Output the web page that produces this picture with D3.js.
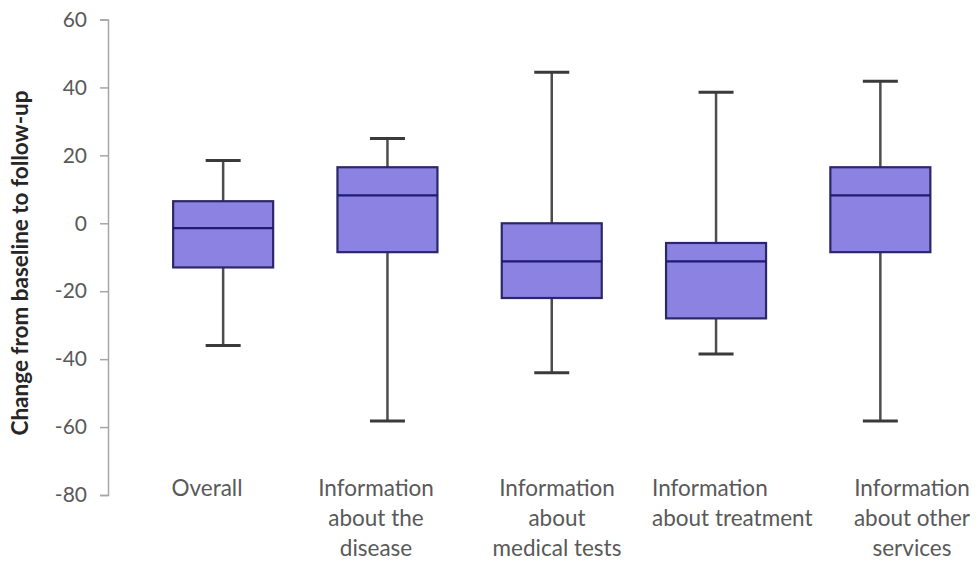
<!DOCTYPE html>
<html>
<head>
<meta charset="utf-8">
<script src="https://cdn.jsdelivr.net/npm/d3@7"></script>
<style>
  html, body { margin: 0; padding: 0; background: #fff; }
  svg { display: block; }
  text { font-family: Lato, "Open Sans", sans-serif; }
</style>
</head>
<body>
<svg id="chart" width="978" height="561"></svg>
<script>
// Categories (multi-line axis labels) and five-number summaries per category
const categories = [
  "Overall",
  "Information about the disease",
  "Information about medical tests",
  "Information about treatment",
  "Information about other services"
];
const labelLines = [
  ["Overall"],
  ["Information", "about the", "disease"],
  ["Information", "about", "medical tests"],
  ["Information", "about treatment"],
  ["Information", "about other", "services"]
];
const whiskerLow  = [-36, -58.2, -44, -38.5, -58.2];
const q1          = [-13, -8.5, -22, -28, -8.5];
const median      = [-1.4, 8.2, -11.2, -11.2, 8.2];
const q3          = [6.5, 16.5, 0, -5.8, 16.5];
const whiskerHigh = [18.5, 25, 44.5, 38.6, 41.8];
const yTicks = [60, 40, 20, 0, -20, -40, -60, -80];

const svg = d3.select("#chart");

const x = d3.scaleBand().domain(categories).range([141, 962.5]).paddingInner(0).paddingOuter(0);
const y = d3.scaleLinear().domain([-80, 60]).range([495, 19.5]);

const boxW = 100;
const capW = 35;
const textColor = "#595959";

// Y axis (plain hyphen for negatives)
const yAxis = d3.axisLeft(y).tickValues(yTicks).tickSize(8).tickPadding(13)
  .tickFormat(d => String(d));
const gy = svg.append("g").attr("transform", "translate(108,0)").call(yAxis);
gy.select(".domain").attr("stroke", "#a6a6a6").attr("stroke-width", 1.5);
gy.selectAll(".tick line").attr("stroke", "#a6a6a6").attr("stroke-width", 1.5);
gy.selectAll(".tick text")
  .attr("fill", textColor)
  .style("font-size", "21px")
  .style("font-family", "Lato, sans-serif");

// Y axis title
svg.append("text")
  .attr("transform", `translate(28,263) rotate(-90)`)
  .attr("text-anchor", "middle")
  .attr("fill", "#262626")
  .style("font-size", "22.5px")
  .style("font-weight", "bold")
  .text("Change from baseline to follow-up");

// Boxes
const data = categories.map((c, i) => ({
  c, lo: whiskerLow[i], q1: q1[i], med: median[i], q3: q3[i], hi: whiskerHigh[i]
}));

const g = svg.append("g");
const box = g.selectAll("g.box").data(data).join("g").attr("class", "box")
  .attr("transform", d => `translate(${x(d.c) + x.bandwidth() / 2},0)`);

// whisker stems
box.append("line")
  .attr("x1", 0).attr("x2", 0)
  .attr("y1", d => y(d.hi)).attr("y2", d => y(d.q3))
  .attr("stroke", "#4d4d4d").attr("stroke-width", 2.5);
box.append("line")
  .attr("x1", 0).attr("x2", 0)
  .attr("y1", d => y(d.q1)).attr("y2", d => y(d.lo))
  .attr("stroke", "#4d4d4d").attr("stroke-width", 2.5);
// whisker caps
box.append("line")
  .attr("x1", -capW / 2).attr("x2", capW / 2)
  .attr("y1", d => y(d.hi)).attr("y2", d => y(d.hi))
  .attr("stroke", "#3a3a3a").attr("stroke-width", 3);
box.append("line")
  .attr("x1", -capW / 2).attr("x2", capW / 2)
  .attr("y1", d => y(d.lo)).attr("y2", d => y(d.lo))
  .attr("stroke", "#3a3a3a").attr("stroke-width", 3);
// IQR box
box.append("rect")
  .attr("x", -boxW / 2).attr("width", boxW)
  .attr("y", d => y(d.q3)).attr("height", d => y(d.q1) - y(d.q3))
  .attr("fill", "#8b82e2").attr("stroke", "#2b2768").attr("stroke-width", 2.2);
// median
box.append("line")
  .attr("x1", -boxW / 2).attr("x2", boxW / 2)
  .attr("y1", d => y(d.med)).attr("y2", d => y(d.med))
  .attr("stroke", "#1f1a72").attr("stroke-width", 2.2);

// Category labels; the treatment label sits left-aligned under its box
const labelX = [207, 376, 557, 652, 912];
const labelAnchor = ["middle", "middle", "middle", "start", "middle"];
const lab = svg.append("g").selectAll("text").data(labelLines).join("text")
  .attr("text-anchor", (d, i) => labelAnchor[i])
  .attr("fill", textColor)
  .style("font-size", "22.5px")
  .attr("x", (d, i) => labelX[i])
  .attr("y", 496);
lab.selectAll("tspan").data((d, i) => d.map(t => ({ t, i }))).join("tspan")
  .attr("x", d => labelX[d.i])
  .attr("dy", (d, j) => j === 0 ? 0 : 30)
  .text(d => d.t);
</script>
</body>
</html>
